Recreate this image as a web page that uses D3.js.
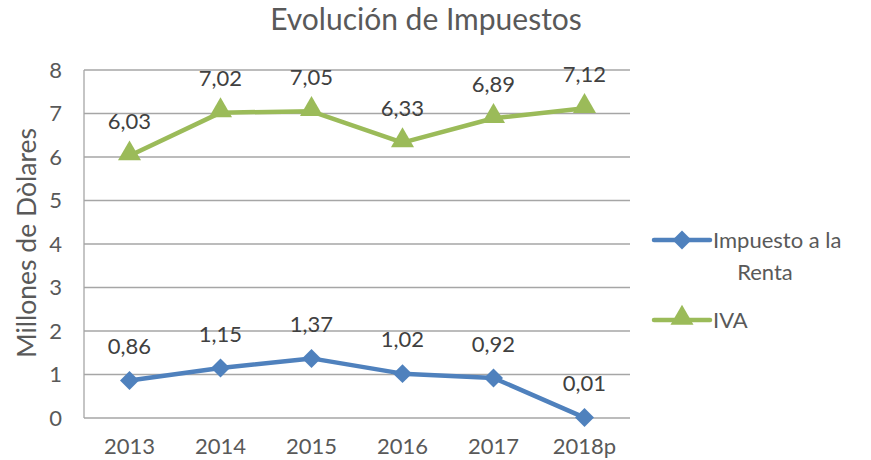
<!DOCTYPE html>
<html>
<head>
<meta charset="utf-8">
<script src="https://cdn.jsdelivr.net/npm/d3@7"></script>
<style>
  body { margin: 0; background: #fff; }
  text { font-family: Lato, "Open Sans", sans-serif; }
</style>
</head>
<body>
<div id="chart"></div>
<script>
const years = ["2013", "2014", "2015", "2016", "2017", "2018p"];
const renta = [0.86, 1.15, 1.37, 1.02, 0.92, 0.01];
const iva = [6.03, 7.02, 7.05, 6.33, 6.89, 7.12];
const yTicks = [0, 1, 2, 3, 4, 5, 6, 7, 8];

const width = 871, height = 460;
const plot = { left: 84, right: 630, top: 70, bottom: 418 };
const textColor = "#404040", axisText = "#595959";
const blue = "#4F81BD", green = "#9BBB59";

const svg = d3.select("#chart").append("svg")
  .attr("width", width).attr("height", height);

const x = d3.scaleBand().domain(years).range([plot.left, plot.right]);
const y = d3.scaleLinear().domain([0, 8]).range([plot.bottom, plot.top]);
const cx = d => x(d) + x.bandwidth() / 2;

// gridlines
svg.append("g").selectAll("line")
  .data(yTicks.filter(t => t > 0))
  .enter().append("line")
  .attr("x1", plot.left).attr("x2", plot.right)
  .attr("y1", d => y(d)).attr("y2", d => y(d))
  .attr("stroke", "#a6a6a6").attr("stroke-width", 1.3);

// axes lines
svg.append("line").attr("x1", plot.left).attr("x2", plot.right)
  .attr("y1", plot.bottom).attr("y2", plot.bottom)
  .attr("stroke", "#a6a6a6").attr("stroke-width", 1.3);
svg.append("line").attr("x1", plot.left).attr("x2", plot.left)
  .attr("y1", plot.top).attr("y2", plot.bottom)
  .attr("stroke", "#a6a6a6").attr("stroke-width", 1.3);

// y tick labels
svg.append("g").selectAll("text").data(yTicks).enter().append("text")
  .attr("x", plot.left - 22).attr("y", d => y(d))
  .attr("dy", "0.35em").attr("text-anchor", "end")
  .attr("font-size", 22).attr("fill", axisText)
  .text(d => d);

// x tick labels
svg.append("g").selectAll("text").data(years).enter().append("text")
  .attr("x", d => cx(d)).attr("y", 446)
  .attr("dy", "0.35em").attr("text-anchor", "middle")
  .attr("font-size", 22).attr("fill", axisText)
  .text(d => d);

// title
svg.append("text").attr("x", 426).attr("y", 19).attr("dy", "0.35em")
  .attr("text-anchor", "middle").attr("font-size", 30).attr("fill", axisText)
  .text("Evolución de Impuestos");

// y axis title
svg.append("text")
  .attr("transform", "translate(27,243) rotate(-90)")
  .attr("dy", "0.35em").attr("text-anchor", "middle")
  .attr("font-size", 26.5).attr("fill", axisText)
  .text("Millones de Dòlares");

const line = d3.line().x((d, i) => cx(years[i])).y(d => y(d));

const series = [
  { name: "Impuesto a la Renta", values: renta, color: blue, sym: "diamond" },
  { name: "IVA", values: iva, color: green, sym: "triangle" }
];

function marker(g, s, px, py) {
  if (s.sym === "diamond") {
    g.append("path").attr("d", d3.symbol().type(d3.symbolSquare).size(180)())
      .attr("transform", `translate(${px},${py}) rotate(45)`)
      .attr("fill", s.color);
  } else {
    g.append("path").attr("d", d3.symbol().type(d3.symbolTriangle).size(230)())
      .attr("transform", `translate(${px},${py - 2})`)
      .attr("fill", s.color);
  }
}

series.forEach(s => {
  const g = svg.append("g");
  g.append("path").datum(s.values).attr("d", line)
    .attr("fill", "none").attr("stroke", s.color)
    .attr("stroke-width", 4.5).attr("stroke-linejoin", "round");
  s.values.forEach((v, i) => marker(g, s, cx(years[i]), y(v)));
  g.selectAll("text.lbl").data(s.values).enter().append("text")
    .attr("class", "lbl")
    .attr("x", (d, i) => cx(years[i])).attr("y", d => y(d) - 34)
    .attr("dy", "0.35em").attr("text-anchor", "middle")
    .attr("font-size", 22).attr("fill", textColor)
    .text(d => d3.format(".2f")(d).replace(".", ","));
});

// legend
const lg = svg.append("g");
const legRows = [
  { s: series[0], y: 240, lines: ["Impuesto a la", "Renta"] },
  { s: series[1], y: 320, lines: ["IVA"] }
];
legRows.forEach(r => {
  lg.append("line").attr("x1", 654).attr("x2", 710)
    .attr("y1", r.y).attr("y2", r.y)
    .attr("stroke", r.s.color).attr("stroke-width", 4.5).attr("stroke-linecap", "round");
  marker(lg, r.s, 682, r.y);
  lg.append("text").attr("x", 713).attr("y", r.y).attr("dy", "0.35em")
    .attr("font-size", 22).attr("fill", axisText).text(r.lines[0]);
  if (r.lines[1]) {
    lg.append("text").attr("x", 765).attr("y", r.y + 32).attr("dy", "0.35em")
      .attr("text-anchor", "middle")
      .attr("font-size", 22).attr("fill", axisText).text(r.lines[1]);
  }
});
</script>
</body>
</html>
